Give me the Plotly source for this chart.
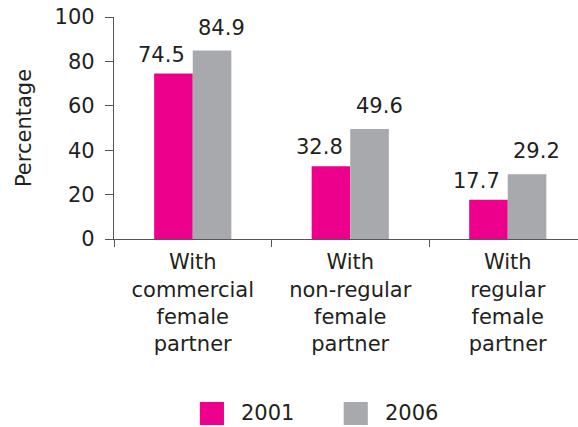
import plotly.graph_objects as go

categories = ["With<br>commercial<br>female<br>partner",
              "With<br>non-regular<br>female<br>partner",
              "With<br>regular<br>female<br>partner"]
years = ["2001", "2006"]
values_2001 = [74.5, 32.8, 17.7]
values_2006 = [84.9, 49.6, 29.2]
colors = ["#EC008C", "#A7A9AC"]
y_ticks = [0, 20, 40, 60, 80, 100]

FONT = "DejaVu Sans"
TXT = "#231F20"
FS = 21

fig = go.Figure()
for name, vals, col in zip(years, [values_2001, values_2006], colors):
    fig.add_trace(go.Bar(x=categories, y=vals, name=name, marker_color=col,
                         marker_line_width=0, showlegend=False))

annotations = []
for vals, xs, ys in [(values_2001, -31, 5), (values_2006, 29, 9)]:
    for c, v in zip(categories, vals):
        annotations.append(dict(x=c, y=v, text=f"{v:.1f}", showarrow=False,
                                xref="x", yref="y", xshift=xs, yshift=ys,
                                yanchor="bottom", font=dict(size=FS, color=TXT, family=FONT)))

# manual legend
shapes = []
leg_x = [0.185, 0.495]
for name, col, lx in zip(years, colors, leg_x):
    shapes.append(dict(type="rect", xref="paper", yref="paper", x0=lx, x1=lx + 0.052,
                       y0=-0.838, y1=-0.734, fillcolor=col, line_width=0))
    annotations.append(dict(x=lx + 0.052, y=-0.786, xref="paper", yref="paper", text=name,
                            showarrow=False, xanchor="left", yanchor="middle", xshift=15,
                            font=dict(size=FS, color=TXT, family=FONT)))

fig.update_layout(
    width=578, height=427,
    margin=dict(l=114, r=0, t=17, b=188),
    paper_bgcolor="white", plot_bgcolor="white",
    barmode="group", bargap=0.51, bargroupgap=0,
    font=dict(family=FONT, size=FS, color=TXT),
    annotations=annotations, shapes=shapes,
    xaxis=dict(type="category", range=[-0.5, 2.446], showline=True, linecolor="#555555",
               linewidth=1.2, ticks="outside", tickson="boundaries", ticklen=7,
               tickcolor="#555555", showgrid=False, ticklabelstandoff=4,
               tickfont=dict(size=FS, color=TXT, family=FONT)),
    yaxis=dict(range=[0, 100], tickvals=y_ticks, showline=True, linecolor="#555555",
               linewidth=1.2, ticks="outside", ticklen=8, tickcolor="#555555",
               showgrid=False, zeroline=False, ticklabelstandoff=6,
               title=dict(text="Percentage", standoff=17, font=dict(size=FS, color=TXT, family=FONT)),
               tickfont=dict(size=FS, color=TXT, family=FONT)),
)

fig.write_html("out.html", config={"displayModeBar": False},
               post_script="document.body.style.margin='0';document.body.style.overflow='hidden';")
